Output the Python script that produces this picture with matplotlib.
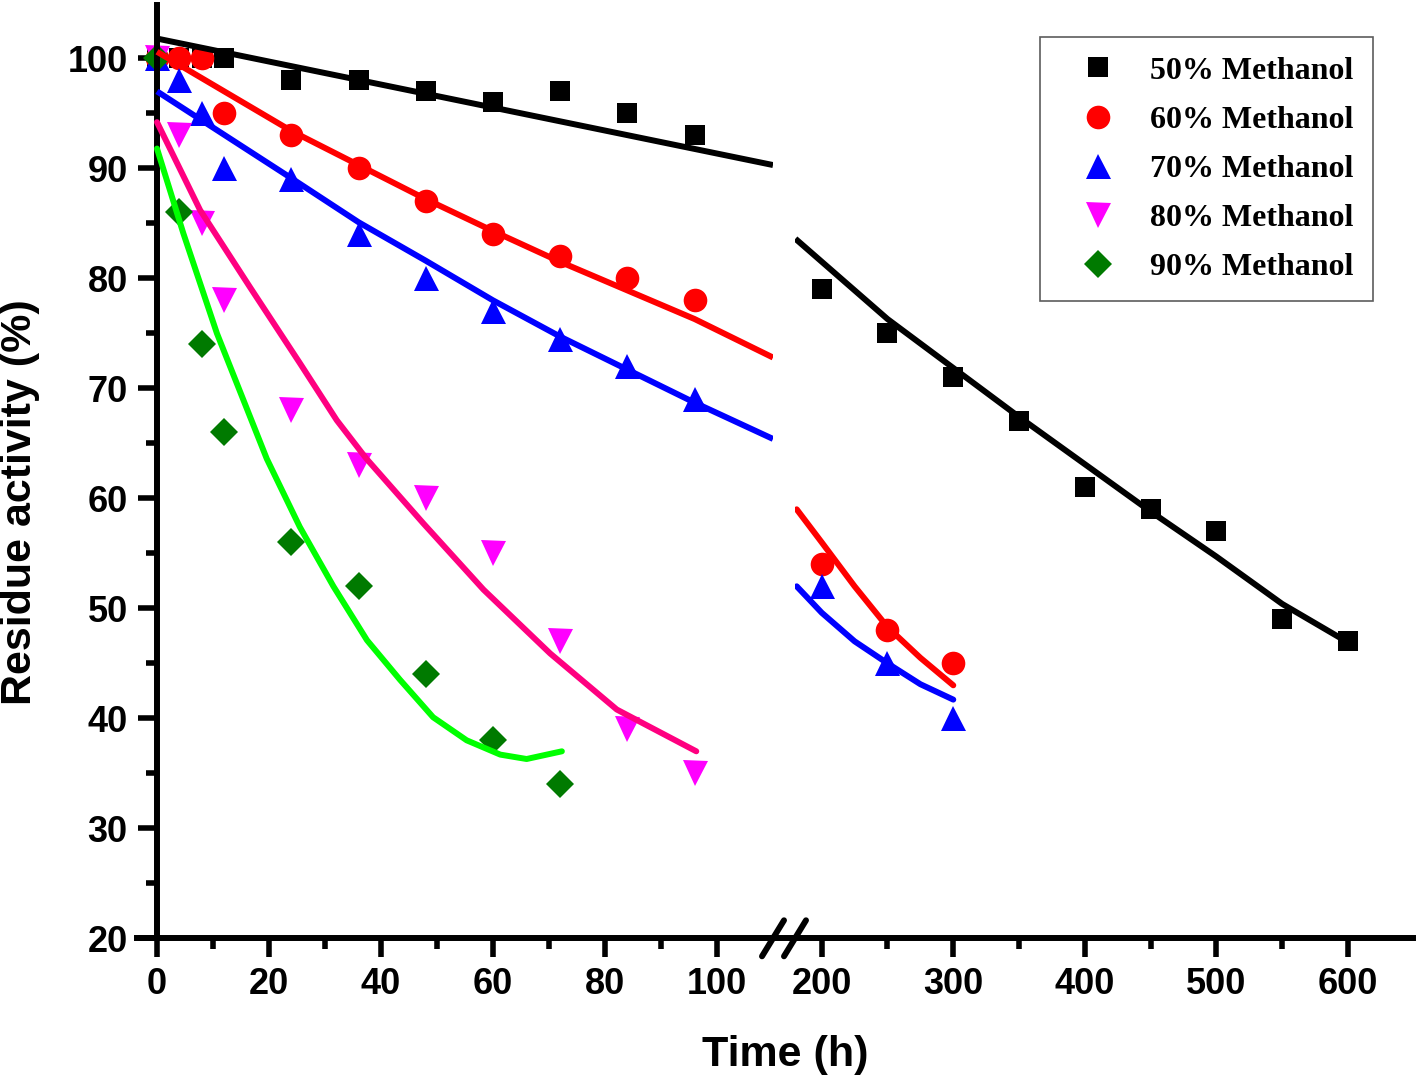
import matplotlib
matplotlib.use("Agg")
import matplotlib.pyplot as plt
from matplotlib.lines import Line2D
from matplotlib.ticker import MultipleLocator, FixedLocator

# measured data (time in h, residue activity in %)
t_short = [0, 4, 8, 12, 24, 36, 48, 60, 72, 84, 96]
t_green = [0, 4, 8, 12, 24, 36, 48, 60, 72]
t_long50 = [200, 250, 300, 350, 400, 450, 500, 550, 600]
t_long = [200, 250, 300]

m50_short = [100, 100, 100, 100, 98, 98, 97, 96, 97, 95, 93]
m50_long = [79, 75, 71, 67, 61, 59, 57, 49, 47]
m60_short = [100, 100, 100, 95, 93, 90, 87, 84, 82, 80, 78]
m60_long = [54, 48, 45]
m70_short = [100, 98, 95, 90, 89, 84, 80, 77, 74.5, 72, 69]
m70_long = [52, 45, 40]
m80_short = [100, 93, 85, 78, 68, 63, 60, 55, 47, 39, 35]
m90_short = [100, 86, 74, 66, 56, 52, 44, 38, 34]

# fitted curves
fit50_x1 = [0, 110]
fit50_y1 = [101.8, 90.3]
fit50_x2 = [180, 250, 350, 450, 500, 550, 600]
fit50_y2 = [83.6, 76.3, 67.4, 58.8, 54.7, 50.4, 46.9]
fit60_x1 = [0, 24, 36, 48, 60, 72, 96, 110]
fit60_y1 = [100.6, 93.4, 90.3, 87.2, 84.3, 81.5, 76.3, 72.8]
fit60_x2 = [181, 200, 225, 250, 275, 300]
fit60_y2 = [59.0, 56.0, 52.0, 48.3, 45.5, 43.0]
fit70_x1 = [0, 24, 36, 48, 60, 72, 96, 110]
fit70_y1 = [97.0, 89.1, 85.1, 81.6, 78.0, 74.7, 68.7, 65.4]
fit70_x2 = [181, 200, 225, 250, 275, 300]
fit70_y2 = [52.0, 49.6, 47.0, 45.0, 43.1, 41.7]
fit80_x = [0, 7.7, 16.6, 25.5, 32.1, 37.4, 47.6, 58.3, 70.2, 82.1, 96.3]
fit80_y = [94.2, 86.2, 79.2, 72.3, 67.1, 63.6, 57.7, 51.7, 45.9, 40.8, 37.0]
fit90_x = [0, 4.7, 10.7, 19.6, 25.5, 31.5, 37.5, 43.4, 49.3, 55.3, 61.3, 66.0, 72.3]
fit90_y = [91.8, 84.1, 75.0, 63.6, 57.4, 52.0, 47.1, 43.5, 40.1, 38.0, 36.7, 36.3, 37.0]

labels = ["50% Methanol", "60% Methanol", "70% Methanol", "80% Methanol", "90% Methanol"]

W, H = 1418, 1080
fig = plt.figure(figsize=(W / 100, H / 100), dpi=100)

bot = (H - 938.3) / H
top = (H - 5) / H
ax1 = fig.add_axes([137 / W, bot, (773 - 137) / W, top - bot])
ax2 = fig.add_axes([795 / W, bot, (1413 - 795) / W, top - bot])

lw_spine = 4.3
tick_font = dict(family="Liberation Sans", weight="bold", size=26)

for ax in (ax1, ax2):
    ax.set_ylim(20, 104.85)
    ax.spines["top"].set_visible(False)
    ax.spines["right"].set_visible(False)
    ax.spines["bottom"].set_linewidth(lw_spine)
    ax.spines["left"].set_linewidth(lw_spine)
    ax.tick_params(axis="both", which="major", direction="out", length=14, width=4, pad=7)
    ax.tick_params(axis="both", which="minor", direction="out", length=8, width=4)

ax1.set_xlim(-3.57, 110)
ax1.spines["left"].set_position(("data", 0))
ax1.xaxis.set_major_locator(FixedLocator([0, 20, 40, 60, 80, 100]))
ax1.xaxis.set_minor_locator(FixedLocator([10, 30, 50, 70, 90]))
ax1.yaxis.set_major_locator(MultipleLocator(10))
ax1.yaxis.set_minor_locator(MultipleLocator(5))

ax2.set_xlim(179.7, 649.4)
ax2.spines["left"].set_visible(False)
ax2.tick_params(axis="y", which="both", left=False, labelleft=False)
ax2.xaxis.set_major_locator(FixedLocator([200, 300, 400, 500, 600]))
ax2.xaxis.set_minor_locator(FixedLocator([250, 350, 450, 550]))

for ax in (ax1, ax2):
    for lab in ax.get_xticklabels() + ax.get_yticklabels():
        lab.set_fontproperties(tick_font)

ms = dict(ls="none", zorder=2, markeredgewidth=0)
flw = 4.3

# left segment
ax1.plot(t_short, m50_short, marker="s", ms=15, color="black", **ms)
ax1.plot(t_short, m60_short, marker="o", ms=17, color="#ff0000", **ms)
ax1.plot(t_short, m70_short, marker="^", ms=18, color="#0000ff", **ms)
ax1.plot(t_short, m80_short, marker="v", ms=18, color="#ff00ff", **ms)
ax1.plot(t_green, m90_short, marker="D", ms=14.5, color="#007a00", **ms)

ax1.plot(fit50_x1, fit50_y1, color="black", lw=flw, zorder=3, solid_capstyle="butt")
ax1.plot(fit60_x1, fit60_y1, color="#ff0000", lw=flw, zorder=3, solid_capstyle="butt")
ax1.plot(fit70_x1, fit70_y1, color="#0000ff", lw=flw, zorder=3, solid_capstyle="butt")
ax1.plot(fit80_x, fit80_y, color="#ff0080", lw=flw, zorder=3,
         solid_joinstyle="round", solid_capstyle="round")
ax1.plot(fit90_x, fit90_y, color="#00ff00", lw=flw, zorder=3,
         solid_joinstyle="round", solid_capstyle="round")

# right segment
h50, = ax2.plot(t_long50, m50_long, marker="s", ms=15, color="black", **ms)
h60, = ax2.plot(t_long, m60_long, marker="o", ms=17, color="#ff0000", **ms)
h70, = ax2.plot(t_long, m70_long, marker="^", ms=18, color="#0000ff", **ms)
ax2.plot(fit50_x2, fit50_y2, color="black", lw=flw, zorder=3, solid_capstyle="butt")
ax2.plot(fit60_x2, fit60_y2, color="#ff0000", lw=flw, zorder=3,
         solid_joinstyle="round", solid_capstyle="round")
ax2.plot(fit70_x2, fit70_y2, color="#0000ff", lw=flw, zorder=3,
         solid_joinstyle="round", solid_capstyle="round")

h80 = Line2D([], [], marker="v", ms=18, color="#ff00ff", **ms)
h90 = Line2D([], [], marker="D", ms=14.5, color="#007a00", **ms)

leg = ax2.legend([h50, h60, h70, h80, h90], labels,
                 loc="upper right", bbox_to_anchor=(1373 / W, (H - 37) / H),
                 bbox_transform=fig.transFigure,
                 prop=dict(family="Liberation Serif", weight="bold", size=23),
                 frameon=True, fancybox=False, borderpad=0.6, labelspacing=0.62,
                 handlelength=2.4, handletextpad=0.45, borderaxespad=0)
leg.get_frame().set_edgecolor("#333333")
leg.get_frame().set_linewidth(1.2)

# bottom axis line across the gap and break marks
yb = (H - 938.3) / H
fig.add_artist(Line2D([773 / W, 795 / W], [yb, yb], color="black", lw=lw_spine,
                      transform=fig.transFigure))
for xc in (773, 795):
    fig.add_artist(Line2D([(xc - 11) / W, (xc + 11) / W], [yb - 18 / H, yb + 18 / H],
                          color="black", lw=4.3, solid_capstyle="round",
                          transform=fig.transFigure))

label_font = dict(family="Liberation Sans", weight="bold", size=31)
fig.text(785 / W, (H - 1055) / H, "Time (h)", ha="center", va="center", **label_font)
fig.text(20 / W, (H - 502) / H, "Residue activity (%)", ha="center", va="center",
         rotation=90, **label_font)

fig.savefig("out.png", dpi=100)
